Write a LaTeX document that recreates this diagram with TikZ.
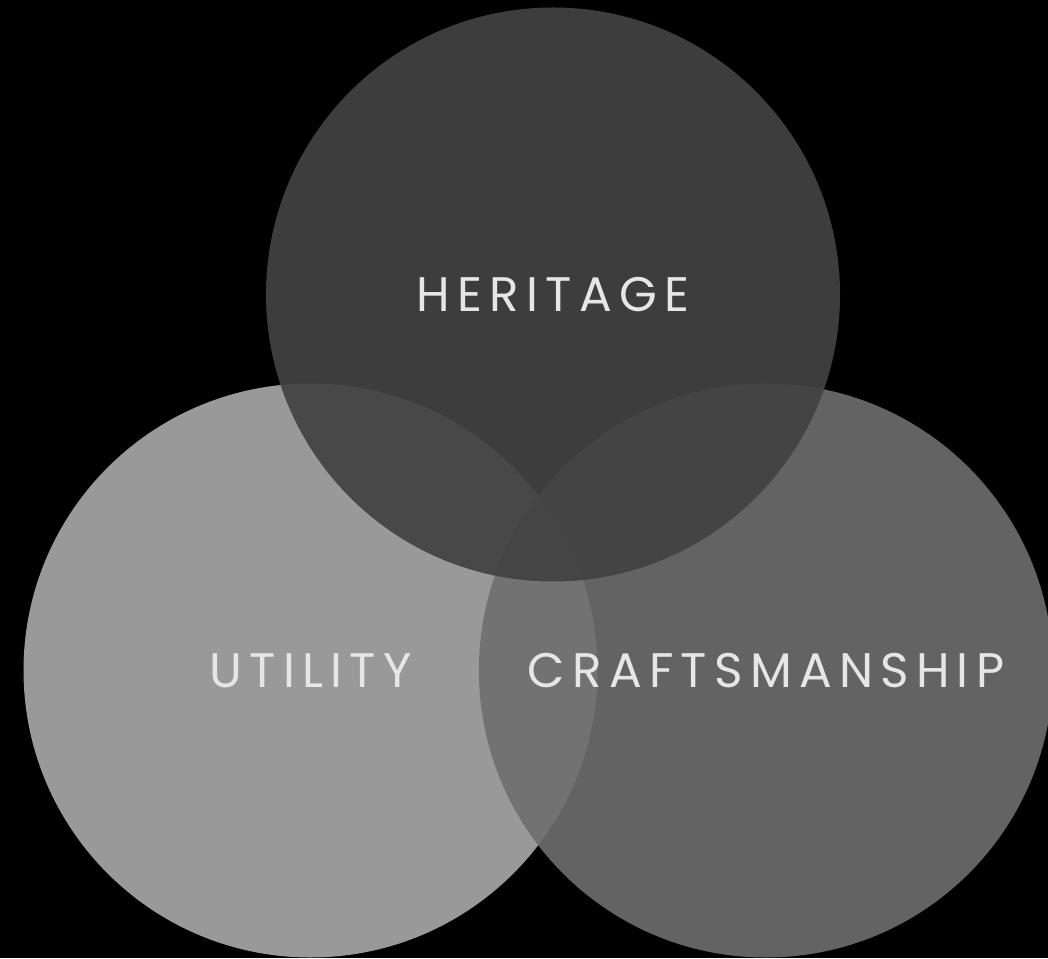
\documentclass[tikz,border=0pt]{standalone}
\usepackage{fontspec}
\usepackage{tikz}
\usetikzlibrary{positioning}
\newfontfamily\labelfont[LetterSpace=15]{Poppins}
\definecolor{utilgray}{RGB}{153,153,153}
\definecolor{craftgray}{RGB}{110,110,110}
\definecolor{herigray}{RGB}{66,66,66}
\definecolor{labelwhite}{RGB}{230,230,230}
\tikzstyle{venn} = [circle, minimum size=5.74cm, inner sep=0pt, text=labelwhite, text opacity=1, font=\labelfont\fontsize{13.8}{16}\selectfont]
\tikzstyle{utility} = [venn, fill=utilgray]
\tikzstyle{craft} = [venn, fill=craftgray, fill opacity=0.9]
\tikzstyle{heri} = [venn, fill=herigray, fill opacity=0.93]

\begin{document}
\begin{tikzpicture}
    %背景
    \fill[black] (0,0) rectangle (10.48,9.58);
    \useasboundingbox (0,0) rectangle (10.48,9.58);

    %三个圆
    \node (util) [utility] at (3.105,2.875) {UTILITY};
    \node (craft) [craft, right = -1.2cm of util] {CRAFTSMANSHIP};
    \node (heri) [heri] at (5.53,6.635) {HERITAGE};
\end{tikzpicture}
\end{document}
